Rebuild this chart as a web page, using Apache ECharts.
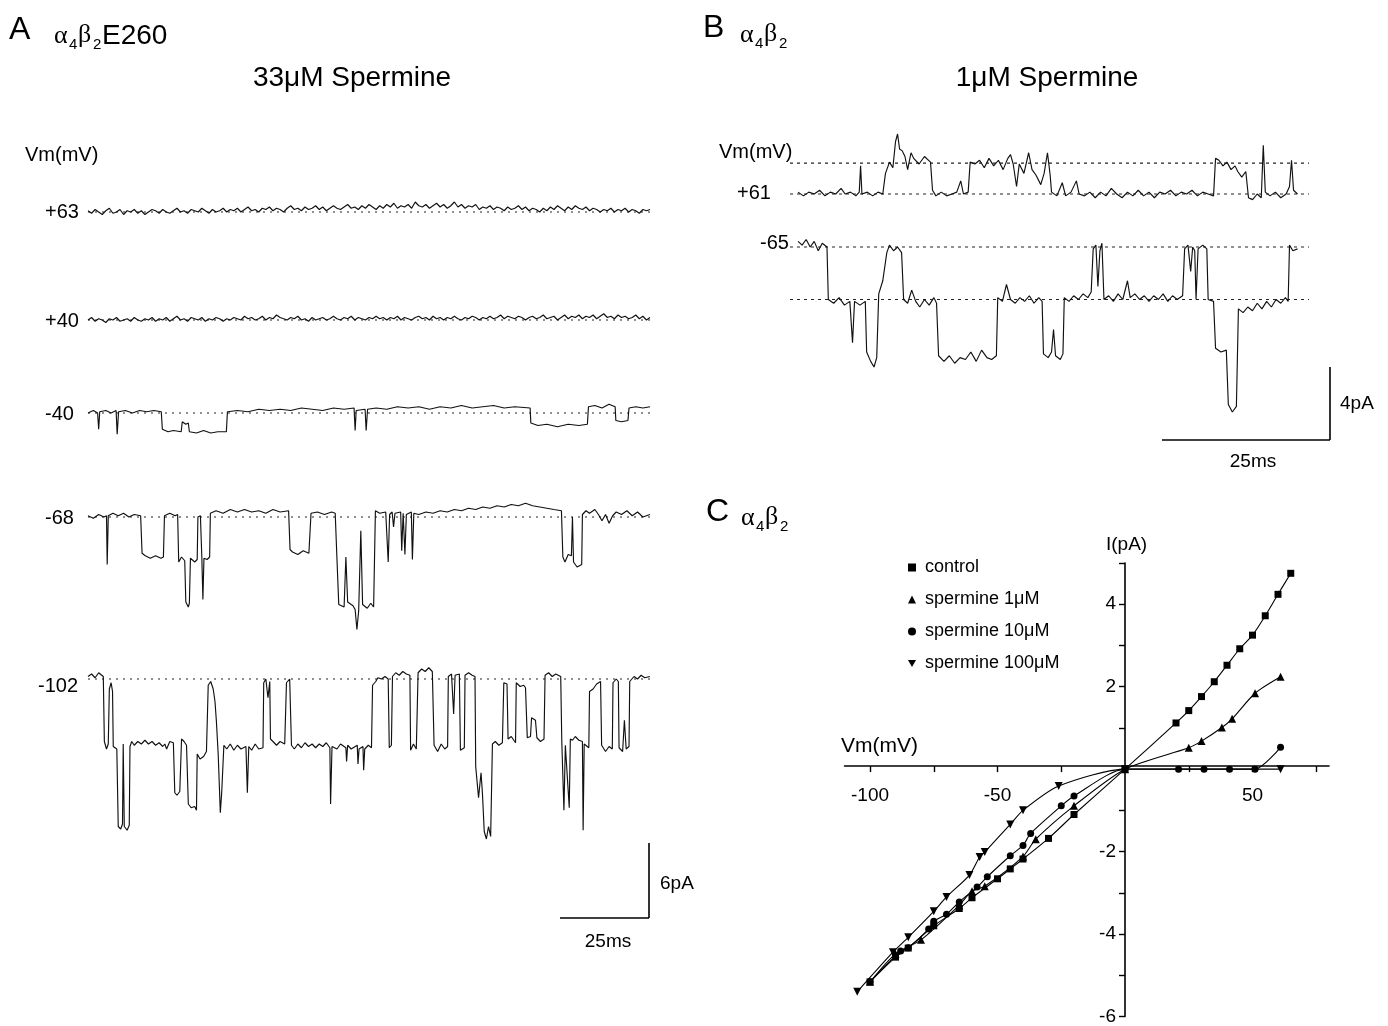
<!DOCTYPE html>
<html><head><meta charset="utf-8">
<script src="https://cdn.jsdelivr.net/npm/echarts/dist/echarts.min.js"></script>
<style>html,body{margin:0;padding:0;background:#fff}#c{width:1388px;height:1026px}</style>
</head><body><div id="c"></div><script>
// ---------- Panel A: alpha4beta2E260, 33 uM spermine (t in ms, I in pA) ----------
var A_voltages = ['+63', '+40', '-40', '-68', '-102'];
// +63 and +40 traces sampled every 1 ms
var A_p63 = [0.1,-0.1,0.2,0.0,-0.2,0.1,0.3,-0.1,0.0,0.2,-0.2,0.1,0.0,0.2,-0.1,0.1,-0.2,0.0,0.2,0.1,-0.1,0.2,0.0,-0.1,0.1,0.3,0.0,0.1,-0.1,0.2,0.1,0.0,0.3,0.1,-0.1,0.2,0.0,0.1,0.3,0.0,
0.2,0.1,0.3,0.0,0.2,0.4,0.1,0.2,0.0,0.3,0.2,0.4,0.1,0.3,0.2,0.0,0.3,0.5,0.2,0.3,
0.1,0.4,0.2,0.3,0.5,0.2,0.4,0.1,0.3,0.5,0.3,0.2,0.4,0.6,0.3,0.4,0.2,0.5,0.3,0.6,
0.4,0.2,0.5,0.3,0.6,0.4,0.7,0.3,0.5,0.4,0.6,0.3,0.8,0.5,0.4,0.6,0.3,0.5,0.7,0.4,
0.6,0.3,0.5,0.8,0.4,0.6,0.3,0.5,0.4,0.6,0.2,0.4,0.3,0.5,0.2,0.4,0.3,0.1,0.4,0.2,
0.3,0.5,0.2,0.4,0.1,0.3,0.2,0.0,0.3,0.1,0.4,0.2,0.5,0.3,0.1,0.4,0.2,0.5,0.3,0.2,
0.4,0.1,0.3,0.2,0.0,0.2,0.1,0.3,0.0,0.2,0.1,0.3,0.0,0.2,0.1,-0.1,0.2,0.1,0.2];
var A_p40 = [0.0,0.2,-0.1,0.1,0.0,-0.2,0.1,0.0,0.2,-0.1,0.0,0.1,-0.1,0.2,0.0,-0.1,0.1,0.0,0.2,-0.1,
0.1,0.0,0.2,-0.1,0.1,0.3,0.0,0.1,-0.1,0.2,0.1,0.0,0.2,-0.1,0.1,0.0,0.2,0.1,-0.1,0.1,
0.0,0.2,0.1,0.0,0.3,0.1,0.2,0.0,0.1,0.3,0.0,0.2,0.1,0.4,0.2,0.1,0.0,0.2,0.1,0.3,
0.0,0.1,-0.1,0.2,0.0,0.1,0.2,0.0,0.1,0.3,0.1,0.0,0.2,0.1,0.3,0.0,0.2,0.1,0.0,0.2,
0.1,0.3,0.1,0.2,0.0,0.2,0.1,0.3,0.0,0.2,0.1,0.0,0.2,0.3,0.1,0.2,0.0,0.3,0.1,0.2,
0.0,0.2,0.1,0.3,0.1,0.0,0.2,0.1,0.3,0.2,0.0,0.2,0.1,0.3,0.1,0.2,0.4,0.1,0.3,0.2,
0.1,0.3,0.2,0.0,0.2,0.3,0.1,0.2,0.4,0.1,0.2,0.3,0.0,0.2,0.4,0.1,0.3,0.2,0.4,0.1,
0.3,0.2,0.4,0.1,0.3,0.5,0.2,0.3,0.1,0.4,0.2,0.3,0.1,0.2,0.4,0.1,0.3,0.0,0.2];
var A_m40 = [[0,0.0],[1.5,0.2],[2.7,0.0],[3.0,-1.3],[3.3,0.1],[5,0.2],[6.5,0.0],[7.9,0.2],[8.2,-1.7],[8.6,0.1],[10.5,0.2],[12.5,0.0],[14.5,0.2],[16.5,0.1],[18.5,0.2],[20.6,0.1],[20.9,-1.3],[22.5,-1.5],[24,-1.4],[26.2,-1.5],[26.5,-0.7],[27.5,-0.9],[28.2,-0.8],[28.5,-1.5],[30.5,-1.6],[32.5,-1.4],[34.5,-1.6],[36.5,-1.5],[38.9,-1.5],[39.2,0.1],[42,0.2],[45,0.1],[48,0.3],[51,0.2],[54,0.3],[57,0.2],[60,0.4],[63,0.3],[66,0.2],[69,0.4],[72,0.3],[74.8,0.4],[75.1,-1.4],[75.4,0.2],[77.9,0.3],[78.2,-1.4],[78.6,0.3],[81,0.4],[84,0.3],[87,0.5],[90,0.4],[93,0.5],[96,0.3],[99,0.5],[102,0.4],[105,0.6],[108,0.4],[111,0.5],[114,0.6],[117,0.4],[120,0.5],[124.3,0.4],[124.5,-0.8],[126.5,-1.0],[129,-0.9],[132,-1.1],[135,-0.9],[138,-1.0],[140.4,-0.9],[140.7,0.5],[142.5,0.6],[144.5,0.4],[146.5,0.7],[148.2,0.5],[148.4,-0.6],[150,-0.7],[151.8,-0.6],[152.1,0.4],[154,0.5],[156,0.4],[158,0.5]];
var A_m68 = [[0,0.1],[1.5,-0.1],[3,0.2],[4.5,0.0],[5.2,0.1],[5.4,-3.8],[5.7,0.1],[7,0.3],[8.5,0.1],[10,0.3],[11.5,0.0],[13,0.2],[14.8,0.1],[15.2,-2.9],[16.1,-3.1],[17.5,-3.3],[19,-3.1],[20.5,-3.3],[21.2,-3.2],[21.5,0.1],[23,0.3],[24.5,0.1],[25.2,0.2],[25.5,-3.6],[26.3,-3.2],[27.2,-3.5],[27.5,-6.8],[28.2,-7.2],[28.5,-6.9],[28.8,-3.3],[30,-3.6],[30.7,-3.4],[30.9,0.0],[31.6,0.1],[32.0,-3.2],[32.3,-6.6],[32.6,-3.3],[33.5,-3.4],[34.2,-3.2],[34.4,0.3],[36,0.5],[38,0.3],[40,0.6],[42,0.4],[44,0.6],[46,0.4],[48,0.5],[50,0.3],[52,0.6],[54,0.4],[56.4,0.5],[56.8,-2.6],[57.5,-2.8],[59,-3.0],[60.5,-2.7],[62.1,-2.9],[62.7,0.3],[64.5,0.4],[66.5,0.2],[68.5,0.4],[69.5,0.3],[70.0,-3.4],[70.5,-7.0],[72,-7.2],[72.5,-3.2],[73,-6.8],[74.5,-7.1],[75.1,-7.4],[75.6,-9.0],[76.1,-7.5],[76.7,-1.1],[77.2,-7.0],[78.5,-7.3],[79.5,-6.9],[80.3,-7.2],[80.8,0.5],[82,0.3],[83.7,0.4],[84.4,-3.6],[84.8,0.2],[85.5,0.4],[85.9,-0.8],[86.3,0.3],[87.9,0.4],[88.2,-2.7],[88.6,0.3],[89.1,-3.0],[89.5,0.2],[90.9,0.4],[91.2,-3.4],[91.6,0.3],[93,0.2],[95,0.4],[97,0.3],[99,0.5],[101,0.4],[103,0.6],[105,0.5],[107,0.7],[109,0.6],[111,0.8],[113,0.7],[115,0.9],[117,0.8],[119,1.0],[121,0.9],[123,1.1],[125,0.9],[127,0.8],[129,0.7],[131,0.6],[133.1,0.5],[133.5,-3.2],[134.1,-3.6],[135,-3.0],[135.9,-3.1],[136.2,0.0],[136.5,-3.6],[137.5,-4.0],[138.8,-3.8],[139.0,0.2],[140,0.5],[141,0.3],[142.5,0.6],[143.5,0.2],[144.5,-0.3],[145.5,0.2],[146.5,-0.5],[147.5,0.1],[148.5,0.4],[150,0.2],[151.5,0.5],[153,0.1],[154.5,0.4],[156,0.0],[158,0.2]];
var A_m102 = [[0,0.2],[1,0.4],[2,0.1],[3,0.5],[4.3,0.2],[4.6,-5.0],[5.2,-5.6],[5.7,-5.2],[6.0,-0.8],[6.5,-0.3],[6.9,-1.0],[7.1,-5.4],[8.1,-5.6],[8.5,-11.8],[9.2,-12.0],[9.7,-11.6],[9.9,-5.2],[10.2,-11.8],[11.0,-12.1],[11.6,-11.7],[11.8,-5.4],[12.3,-5.0],[13,-5.3],[14,-5.0],[15,-5.2],[16,-4.9],[17,-5.2],[18,-5.0],[19,-5.3],[20,-5.1],[21,-5.4],[21.6,-5.2],[22.1,-5.6],[23.0,-5.0],[23.5,-4.9],[24.0,-5.1],[24.4,-9.1],[25.0,-9.3],[25.8,-9.0],[26.3,-4.8],[27.0,-5.0],[27.7,-5.3],[28.2,-10.0],[29,-10.3],[30,-10.2],[30.5,-10.5],[30.7,-6.0],[31.5,-6.4],[32.5,-6.2],[33.3,-5.8],[33.8,-0.5],[34.5,-0.2],[35.2,-0.8],[35.7,-1.8],[36.1,-3.4],[36.6,-6.0],[37.2,-10.7],[37.6,-9.0],[38.2,-5.3],[39,-5.6],[40,-5.2],[41,-5.7],[42,-5.3],[43,-5.6],[44.4,-5.4],[44.8,-9.1],[45.2,-5.4],[46,-5.7],[47,-5.2],[48,-5.6],[49.2,-5.5],[49.4,-0.3],[50.0,0.0],[50.6,-1.5],[51.1,-0.2],[51.3,-4.8],[52,-5.0],[53,-5.3],[54,-5.0],[55.3,-5.2],[55.8,-0.3],[56.7,0.0],[57.2,-5.3],[58,-5.6],[59,-5.2],[60,-5.5],[61,-5.1],[62,-5.4],[63,-5.2],[64,-5.5],[65,-5.2],[66,-5.4],[67,-5.1],[68.0,-5.5],[68.2,-10.0],[68.6,-5.4],[70,-5.6],[71,-5.2],[72.5,-5.5],[72.7,-6.6],[73,-5.3],[74,-5.6],[75.7,-5.3],[75.9,-6.8],[76.2,-5.6],[77.3,-5.4],[77.5,-7.3],[77.8,-5.6],[78.8,-5.3],[79.7,-5.5],[80.0,-0.5],[80.9,-0.2],[81.5,0.1],[82.5,0.0],[83.5,0.2],[84.4,0.0],[84.7,-5.5],[85.3,-5.3],[85.6,0.2],[86.5,0.5],[87.5,0.3],[88.5,0.6],[89.5,0.4],[90.5,0.3],[90.7,-5.7],[91.5,-5.2],[92.3,-5.6],[92.8,0.5],[93.8,0.8],[94.8,0.6],[95.8,0.9],[96.8,0.6],[97.3,-5.3],[98.3,-5.8],[99.3,-5.2],[100.3,-5.6],[101.1,-5.4],[101.3,0.2],[102.2,0.4],[102.8,-2.8],[103.2,0.3],[104.4,0.4],[104.7,-5.7],[105.8,-5.5],[106.0,0.3],[107,0.5],[108,0.3],[108.8,0.2],[109.0,-7.0],[109.8,-9.5],[110.5,-7.5],[110.9,-9.2],[111.4,-12.2],[112,-12.8],[112.6,-11.8],[113.2,-12.6],[113.7,-5.2],[114.5,-5.0],[115.5,-5.3],[116.5,-5.1],[116.9,-0.3],[117.8,-0.4],[118.1,-4.8],[119,-4.6],[120.2,-5.1],[120.4,-0.3],[121.5,-0.6],[122.5,-0.5],[123.0,-0.7],[123.5,-4.7],[124.4,-4.6],[124.7,-3.1],[125.8,-3.3],[126.2,-4.7],[127.2,-5.0],[128.2,-4.8],[128.5,0.3],[129.5,0.5],[130.5,0.2],[131.5,0.4],[132.9,0.2],[133.2,-5.0],[133.8,-10.5],[134.2,-5.3],[135.3,-10.3],[135.6,-4.8],[136.2,-4.9],[137,-4.6],[138,-4.9],[139.0,-5.0],[139.2,-12.1],[139.5,-5.2],[140.8,-5.5],[141.0,-1.0],[142,-0.8],[143,-0.4],[144.1,-0.2],[144.4,-5.3],[145.5,-5.8],[146.5,-5.4],[147.4,-5.6],[147.6,-0.3],[148.5,0.0],[149.1,-0.2],[149.3,-5.5],[150.3,-5.8],[150.8,-3.3],[151.3,-5.6],[152.1,-5.4],[152.3,-0.2],[153.5,0.2],[154.5,0.0],[155.5,0.3],[156.5,0.1],[158,0.2]];
var A_baseline = 0;

// ---------- Panel B: alpha4beta2, 1 uM spermine ----------
var B_voltages = ['+61', '-65'];
var B_p61_levels = [0, 1.65];
var B_m65_levels = [0, -2.8];
var B_p61 = [[0,0.1],[0.8,-0.1],[1.6,0.1],[2.4,0.0],[3.2,0.2],[4,-0.1],[4.8,0.1],[5.6,0.0],[6.4,0.3],[7.0,0.0],[7.8,0.1],[8.6,-0.1],[9.1,0.1],[9.3,1.5],[9.5,0.0],[10.3,0.1],[11.1,-0.1],[11.9,0.1],[12.6,0.0],[13.0,1.1],[13.6,1.7],[14.1,1.4],[14.5,2.8],[14.8,3.2],[15.1,2.4],[15.5,2.3],[15.9,2.0],[16.3,1.3],[16.8,2.2],[17.2,1.9],[18.0,1.6],[18.8,2.0],[19.7,1.7],[20.0,0.2],[20.5,-0.1],[21.3,0.1],[22.1,-0.1],[22.9,0.0],[23.6,0.1],[24.2,0.7],[24.6,0.0],[25.3,0.1],[25.6,1.7],[26.3,1.6],[27,1.8],[27.7,1.4],[28.4,1.9],[29.1,1.5],[29.8,1.8],[30.5,1.3],[31.2,1.9],[31.6,2.1],[32.0,1.6],[32.5,0.4],[32.9,1.6],[33.6,1.1],[34.3,2.2],[34.8,1.3],[35.4,1.0],[36.1,0.5],[36.6,1.1],[37.1,2.2],[37.5,1.0],[37.7,0.1],[38.5,-0.1],[39.3,0.6],[39.8,-0.1],[40.6,0.1],[41.4,0.7],[41.8,0.0],[42.6,-0.1],[43.4,0.1],[44.2,-0.2],[45,0.1],[45.8,-0.1],[46.6,0.3],[47.4,0.0],[48.2,-0.2],[49,0.1],[49.8,-0.1],[50.6,0.2],[51.4,-0.1],[52.2,0.1],[53,-0.2],[53.8,0.1],[54.6,0.0],[55.4,0.2],[56.2,-0.1],[57,0.1],[57.8,0.0],[58.6,0.2],[59.4,-0.1],[60.2,0.1],[61.0,0.0],[61.8,-0.1],[62.1,1.9],[62.6,1.8],[63.2,1.5],[63.8,1.7],[64.4,1.3],[65.0,1.5],[65.4,1.2],[66.0,0.9],[66.6,1.2],[67.0,-0.2],[67.6,-0.3],[68.3,0.0],[68.9,-0.2],[69.2,2.6],[69.5,0.1],[70.2,-0.1],[71,0.1],[71.8,-0.2],[72.6,0.0],[73.1,0.4],[73.4,1.8],[73.7,0.2],[74.3,0.0]];
var B_m65 = [[0,0.3],[0.6,0.1],[1.2,0.4],[1.8,0.0],[2.4,0.3],[3.0,-0.2],[3.6,0.2],[4.3,0.0],[4.5,-2.8],[5.3,-3.0],[6.1,-2.7],[6.9,-3.1],[7.7,-2.9],[8.1,-5.1],[8.4,-2.9],[9.2,-3.1],[10.0,-2.9],[10.2,-5.6],[10.8,-6.1],[11.3,-6.4],[11.7,-5.9],[12.0,-2.5],[12.6,-1.8],[13.2,-0.3],[13.6,0.1],[14.2,-0.2],[14.8,0.0],[15.4,-0.3],[15.7,-2.8],[16.3,-3.0],[16.9,-2.3],[17.5,-2.9],[18.1,-3.2],[18.8,-2.8],[19.5,-3.1],[20.2,-2.7],[20.6,-3.0],[20.9,-5.8],[21.7,-6.1],[22.5,-5.8],[23.3,-6.2],[24.1,-5.9],[24.9,-6.0],[25.7,-5.6],[26.5,-6.1],[27.3,-5.5],[28.1,-5.9],[28.8,-6.0],[29.5,-5.8],[29.7,-2.7],[30.4,-2.9],[31.0,-2.0],[31.6,-2.8],[32.3,-3.0],[33,-2.7],[33.7,-2.9],[34.4,-2.6],[35.1,-3.0],[35.8,-2.7],[36.3,-2.9],[36.5,-5.7],[37.2,-5.9],[37.7,-5.6],[38.0,-4.4],[38.3,-5.8],[39.0,-6.0],[39.4,-5.7],[39.6,-2.7],[40.3,-2.9],[41,-2.6],[41.7,-2.8],[42.4,-2.5],[43.1,-2.7],[43.6,-2.4],[43.9,-0.1],[44.3,0.1],[44.6,-2.1],[44.9,-0.2],[45.2,0.2],[45.5,-2.8],[46.2,-2.6],[46.9,-2.9],[47.6,-2.5],[48.3,-2.8],[49.0,-1.8],[49.4,-2.7],[50.1,-2.5],[50.8,-2.8],[51.5,-2.6],[52.2,-2.9],[52.9,-2.6],[53.6,-2.8],[54.3,-2.5],[55,-2.9],[55.7,-2.6],[56.4,-2.8],[57.2,-2.6],[57.5,-0.1],[58.0,0.1],[58.4,-1.3],[58.7,0.0],[59.0,-0.2],[59.2,-2.8],[59.5,-0.1],[60.2,0.1],[60.8,-0.1],[61.0,-2.8],[61.8,-2.9],[62.1,-5.4],[62.9,-5.6],[63.7,-5.5],[64.0,-8.4],[64.6,-8.8],[65.2,-8.5],[65.5,-3.3],[66.2,-3.5],[66.9,-3.2],[67.6,-3.4],[68.3,-3.0],[69,-3.3],[69.7,-2.9],[70.4,-3.2],[71.1,-2.8],[71.8,-3.0],[72.5,-2.7],[72.9,-2.9],[73.1,0.1],[73.6,-0.2],[74.3,-0.1]];

// ---------- Panel C: I-V relations ----------
var C_names = ['control', 'spermine 1\u03bcM', 'spermine 10\u03bcM', 'spermine 100\u03bcM'];
var C_control_V = [-100,-90,-85,-75,-65,-60,-50,-45,-40,-30,-20,0,20,25,30,35,40,45,50,55,60,65];
var C_control_I = [-5.16,-4.56,-4.34,-3.80,-3.38,-3.12,-2.66,-2.42,-2.18,-1.68,-1.10,0,1.12,1.42,1.76,2.12,2.52,2.92,3.25,3.72,4.24,4.75];
var C_sp1_V = [-100,-90,-80,-65,-60,-55,-40,-35,-20,0,25,30,38,42,51,61];
var C_sp1_I = [-5.16,-4.48,-4.14,-3.30,-2.96,-2.84,-2.12,-1.70,-0.89,0,0.52,0.68,1.01,1.22,1.84,2.24];
var C_sp10_V = [-100,-88,-85,-77,-75,-70,-65,-58,-54,-45,-40,-37,-25,-20,0,21,31,41,51,61];
var C_sp10_I = [-5.16,-4.41,-4.33,-3.88,-3.69,-3.52,-3.22,-2.86,-2.61,-2.10,-1.85,-1.56,-0.89,-0.65,0,0,0,0,0,0.53];
var C_sp100_V = [-105,-91,-85,-75,-70,-61,-57,-55,-45,-40,-26,0,61];
var C_sp100_I = [-5.40,-4.44,-4.08,-3.45,-3.10,-2.57,-2.13,-2.01,-1.34,-1.00,-0.41,0,0];
var C_xTicks = [-100,-75,-50,-25,0,25,50,75];
var C_xLabels = [-100,-50,50];
var C_yTicks = [-6,-5,-4,-3,-2,-1,0,1,2,3,4,5];
var C_yLabels = [-6,-4,-2,2,4];

// ---------- build ----------
var SANS = '"Liberation Sans", Arial, sans-serif';
var SERIF = '"Liberation Serif", "Times New Roman", serif';
function zip(a, b) { return a.map(function (v, i) { return [v, b[i]]; }); }
function idx(arr) { return arr.map(function (v, i) { return [i, v]; }); }

var grids = [], xAxes = [], yAxes = [], series = [];
function traceGrid(left, width, top, height, xmin, xmax, ymin, ymax) {
  grids.push({ left: left, width: width, top: top, height: height, containLabel: false });
  var gi = grids.length - 1;
  xAxes.push({ gridIndex: gi, type: 'value', min: xmin, max: xmax, show: false });
  yAxes.push({ gridIndex: gi, type: 'value', min: ymin, max: ymax, show: false });
  return gi;
}
function traceSeries(gi, data, w) {
  series.push({ type: 'line', xAxisIndex: gi, yAxisIndex: gi, data: data, showSymbol: false, silent: true,
    animation: false, lineStyle: { color: '#111', width: w || 1.1 }, z: 3 });
}
function dotted(gi, x0, x1, level, dash) {
  series.push({ type: 'line', xAxisIndex: gi, yAxisIndex: gi, data: [[x0, level], [x1, level]], showSymbol: false,
    silent: true, animation: false, lineStyle: { color: '#222', width: 1.2, type: dash }, z: 2 });
}

// Panel A grids: x 88..650 px = 0..158 ms (3.557 px/ms), 12.5 px/pA
var A_base_px = [212, 320, 413, 517, 679];
var A_traces = [idx(A_p63), idx(A_p40), A_m40, A_m68, A_m102];
A_traces.forEach(function (tr, k) {
  var gi = traceGrid(88, 562, A_base_px[k] - 25, 200, 0, 158, -14, 2);
  dotted(gi, 0, 158, A_baseline, [2, 5]);
  traceSeries(gi, tr, 1.15);
});
// Panel B grids: x 790..1309 px = -1.2..76 ms (6.72 px/ms), 18.75 px/pA
var gB1 = traceGrid(790, 519, 194 - 75, 112.5, -1.2, 76, -2, 4);
B_p61_levels.forEach(function (l) { dotted(gB1, -1.2, 76, l, [3, 4]); });
traceSeries(gB1, B_p61, 1.15);
var gB2 = traceGrid(790, 519, 247 - 18.75, 206.25, -1.2, 76, -10, 1);
B_m65_levels.forEach(function (l) { dotted(gB2, -1.2, 76, l, [3, 4]); });
traceSeries(gB2, B_m65, 1.15);

// Panel C : grid x -110..80 mV, y -6..5 pA; axes crossing at origin
grids.push({ left: 844.5, width: 484.5, top: 563, height: 459, containLabel: false });
var gC = grids.length - 1;
xAxes.push({ gridIndex: gC, type: 'value', min: -110, max: 80, position: 'bottom', offset: -250.4,
  axisLine: { onZero: false, lineStyle: { color: '#000', width: 1.6 } },
  axisTick: { customValues: C_xTicks, length: 6, lineStyle: { color: '#000', width: 1.4 } },
  axisLabel: { customValues: C_xLabels, color: '#000', fontSize: 19, fontFamily: SANS, margin: 20 },
  splitLine: { show: false } });
yAxes.push({ gridIndex: gC, type: 'value', min: -6, max: 5, position: 'left', offset: -280.5,
  axisLine: { onZero: false, lineStyle: { color: '#000', width: 1.6 } },
  axisTick: { customValues: C_yTicks, length: 6, lineStyle: { color: '#000', width: 1.4 } },
  axisLabel: { customValues: C_yLabels, color: '#000', fontSize: 19, fontFamily: SANS, margin: 9 },
  splitLine: { show: false } });
var downTri = 'path://M0,0L10,0L5,9Z';
var C_sets = [
  { v: C_control_V, i: C_control_I, sym: 'rect', size: 7 },
  { v: C_sp1_V, i: C_sp1_I, sym: 'triangle', size: 8 },
  { v: C_sp10_V, i: C_sp10_I, sym: 'circle', size: 7 },
  { v: C_sp100_V, i: C_sp100_I, sym: downTri, size: 8 }
];
C_sets.forEach(function (s, k) {
  series.push({ name: C_names[k], type: 'line', xAxisIndex: gC, yAxisIndex: gC, data: zip(s.v, s.i),
    smooth: 0.25, showSymbol: true, showAllSymbol: true, symbol: s.sym, symbolSize: s.size,
    itemStyle: { color: '#000' }, lineStyle: { color: '#000', width: 1.1 }, animation: false, z: 4 });
});

// text helpers
var g = [];
function T(x, y, text, size, opt) {
  opt = opt || {};
  g.push({ type: 'text', x: x, y: y, z: 10, style: { text: text, fill: '#000',
    font: (opt.weight || 'normal') + ' ' + size + 'px ' + (opt.family || SANS),
    align: opt.align || 'left', verticalAlign: 'middle' } });
}
function L(x1, y1, x2, y2, w) {
  g.push({ type: 'line', z: 10, shape: { x1: x1, y1: y1, x2: x2, y2: y2 }, style: { stroke: '#000', lineWidth: w || 1.6 } });
}
function alphaBeta(x, y) {
  T(x, y, '\u03b1', 26, { family: SERIF });
  T(x + 15, y + 9, '4', 15);
  T(x + 24, y - 1, '\u03b2', 26, { family: SERIF });
  T(x + 39, y + 9, '2', 15);
}
// Panel A text
T(9, 30, 'A', 32);
alphaBeta(54, 36);
T(102, 36, 'E260', 28);
T(352, 78, '33\u03bcM Spermine', 28, { align: 'center' });
T(25, 155, 'Vm(mV)', 20);
var A_label_y = [212, 321, 414, 518, 686];
var A_label_x = [45, 45, 45, 45, 38];
A_voltages.forEach(function (v, k) { T(A_label_x[k], A_label_y[k], v, 20); });
L(560, 918, 649, 918); L(649, 843, 649, 918);
T(660, 884, '6pA', 19);
T(608, 942, '25ms', 19, { align: 'center' });
// Panel B text
T(703, 28, 'B', 32);
alphaBeta(740, 35);
T(1047, 78, '1\u03bcM Spermine', 28, { align: 'center' });
T(719, 152, 'Vm(mV)', 20);
T(737, 193, B_voltages[0], 20);
T(760, 243, B_voltages[1], 20);
L(1162, 440, 1330, 440); L(1330, 367, 1330, 440);
T(1340, 404, '4pA', 19);
T(1253, 462, '25ms', 19, { align: 'center' });
// Panel C text
T(706, 512, 'C', 32);
alphaBeta(741, 518);
T(1106, 545, 'I(pA)', 19);
T(841, 746, 'Vm(mV)', 21);

var chart = echarts.init(document.getElementById('c'), null, { renderer: 'canvas' });
chart.setOption({
  backgroundColor: '#fff',
  animation: false,
  grid: grids, xAxis: xAxes, yAxis: yAxes, series: series,
  legend: { left: 903, top: 553, orient: 'vertical', itemGap: 13, itemWidth: 8, itemHeight: 8,
    textStyle: { color: '#000', fontSize: 18, fontFamily: SANS, lineHeight: 19, padding: [0, 0, 0, 4] },
    data: [ { name: C_names[0], icon: 'rect' }, { name: C_names[1], icon: 'triangle' },
            { name: C_names[2], icon: 'circle' }, { name: C_names[3], icon: downTri } ],
    selectedMode: false },
  graphic: g
});
</script></body></html>
